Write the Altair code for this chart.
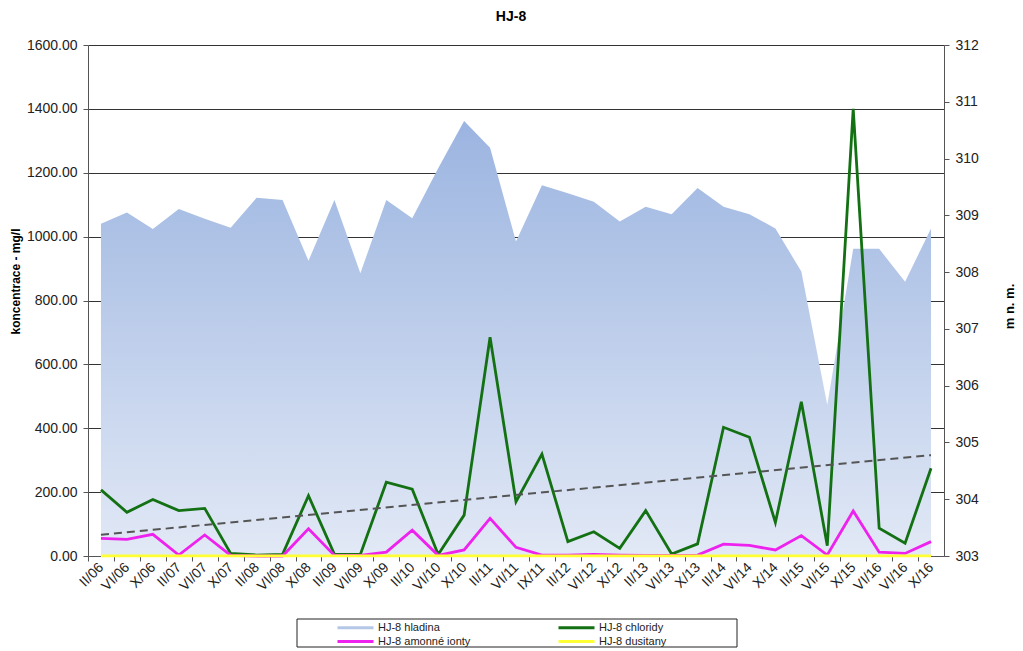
import altair as alt
import pandas as pd

labels = ["II/06", "VI/06", "X/06", "II/07", "VI/07", "X/07", "II/08", "VI/08", "X/08",
          "II/09", "VI/09", "X/09", "II/10", "VI/10", "X/10", "II/11", "VI/11", "IX/11",
          "II/12", "VI/12", "X/12", "II/13", "VI/13", "X/13", "II/14", "VI/14", "X/14",
          "II/15", "VI/15", "X/15", "VI/16", "VI/16", "X/16"]

hladina = [308.85, 309.05, 308.76, 309.11, 308.94, 308.78, 309.31, 309.27, 308.20,
           309.27, 307.98, 309.27, 308.95, 309.83, 310.66, 310.19, 308.54, 309.53,
           309.39, 309.24, 308.89, 309.15, 309.02, 309.48, 309.15, 309.02, 308.77,
           308.01, 305.66, 308.41, 308.41, 307.83, 308.77]

chloridy = [207, 137, 177, 142, 149, 8, 3, 5, 189,
            5, 5, 231, 209, 5, 128, 685, 170, 319,
            45, 76, 24, 142, 6, 38, 403, 372, 105,
            483, 32, 1400, 87, 40, 275]

amonne = [55, 52, 68, 3, 66, 2, 0, 0, 85,
          2, 2, 12, 81, 2, 19, 118, 27, 3,
          3, 5, 3, 2, 2, 3, 37, 33, 19,
          64, 3, 141, 12, 8, 45]

dusitany = [0.5, 0.4, 0.5, 0.3, 0.4, 0.2, 0.2, 0.2, 0.3,
            0.2, 0.2, 0.3, 0.3, 0.2, 0.3, 0.4, 0.3, 0.2,
            0.2, 0.3, 0.2, 0.2, 0.2, 0.2, 0.3, 0.3, 0.2,
            0.3, 0.2, 0.4, 0.3, 0.2, 0.3]

# legend order (column-major fill): column 1 = hladina, amonné; column 2 = chloridy, dusitany
series_names = ["HJ-8 hladina", "HJ-8 amonné ionty", "HJ-8 chloridy", "HJ-8 dusitany"]
series_colors = ["#b4c7e7", "#ee22ee", "#137113", "#ffff33"]

W, H = 856, 511
n = len(labels)
idx = list(range(n))
half = W / n / 2

df_h = pd.DataFrame({"i": idx, "v": hladina})
rows = []
for name, vals in [("HJ-8 chloridy", chloridy), ("HJ-8 amonné ionty", amonne), ("HJ-8 dusitany", dusitany)]:
    for i, v in zip(idx, vals):
        rows.append({"i": i, "v": v, "s": name})
df_l = pd.DataFrame(rows)
df_cl = pd.DataFrame({"i": idx, "v": chloridy})

label_arr = "[" + ",".join("'" + s + "'" for s in labels) + "]"

xscale = alt.Scale(domain=[-0.5, n - 0.5], nice=False, zero=False)
xaxis = alt.Axis(values=idx, labelExpr=label_arr + "[datum.value]", labelAngle=315,
                 labelAlign="right", labelBaseline="middle", tickOffset=-half, labelOffset=half,
                 labelOverlap=False, tickSize=5, grid=False, domainColor="#555555",
                 tickColor="#555555", labelFontSize=14, labelColor="#222222", labelPadding=4,
                 title=None)

area = alt.Chart(df_h).mark_area(
    color=alt.Gradient(gradient="linear",
                       stops=[alt.GradientStop(color="#9bb4e0", offset=0),
                              alt.GradientStop(color="#e2e9f6", offset=1)],
                       x1=0, x2=0, y1=0, y2=1),
    opacity=1,
).encode(
    x=alt.X("i:Q", scale=xscale, axis=xaxis),
    y=alt.Y("v:Q", scale=alt.Scale(domain=[303, 312], nice=False, zero=False),
            axis=alt.Axis(orient="right", values=list(range(303, 313)), format="d",
                          title="m n. m.", titleAngle=270, titleFontSize=13, titleFontWeight="bold",
                          titleX=65, titleY=261, titleBaseline="middle", titleAlign="center",
                          grid=False, tickSize=5, domainColor="#555555", tickColor="#555555",
                          labelFontSize=14, labelColor="#222222", labelPadding=6)),
    y2=alt.datum(303),
)

lines = alt.Chart(df_l).mark_line(strokeWidth=2.8).encode(
    x=alt.X("i:Q", scale=xscale, axis=xaxis),
    y=alt.Y("v:Q", scale=alt.Scale(domain=[0, 1600], nice=False),
            axis=alt.Axis(values=list(range(0, 1601, 200)), format=".2f",
                          title="koncentrace - mg/l", titleFontSize=12, titleFontWeight="bold",
                          titleX=-73, titleY=236, titleBaseline="middle", titleAlign="center",
                          grid=True, gridColor="#333333", gridWidth=1,
                          tickSize=5, domainColor="#555555", tickColor="#555555",
                          labelFontSize=14, labelColor="#222222", labelPadding=6)),
    color=alt.Color("s:N", sort=series_names,
                    scale=alt.Scale(domain=series_names, range=series_colors),
                    legend=alt.Legend(orient="none", legendX=209, legendY=573, columns=2,
                                      title=None, symbolType="M-3,0H3", symbolSize=144,
                                      symbolStrokeWidth=3, symbolOffset=49, labelFontSize=11,
                                      labelColor="#222222", columnPadding=49, rowPadding=0,
                                      padding=2, labelOffset=15)),
    order="i:Q",
)

trend = alt.Chart(df_cl).transform_regression("i", "v", extent=[0, n - 1]).mark_line(
    color="#555555", strokeWidth=2, strokeDash=[8, 5]
).encode(
    x=alt.X("i:Q", scale=xscale, axis=xaxis),
    y=alt.Y("v:Q", scale=alt.Scale(domain=[0, 1600], nice=False)),
)

# legend frame
frame = alt.Chart(pd.DataFrame({"f": [0]})).mark_rect(
    fill="white", fillOpacity=0, stroke="#222222", strokeWidth=1
).encode(x=alt.value(209), x2=alt.value(649), y=alt.value(574), y2=alt.value(602))

left = alt.layer(lines, trend)

chart = alt.layer(area, left, frame).resolve_scale(y="independent").properties(
    width=W, height=H,
    title=alt.TitleParams("HJ-8", fontSize=14, fontWeight="bold", anchor="middle", offset=14, dx=-5),
    autosize=alt.AutoSizeParams(type="none"),
    padding={"left": 80, "top": 37, "right": 71, "bottom": 100},
).configure(font="Liberation Sans").configure_view(stroke=None)

chart.save("out.html", embed_options={"renderer": "svg", "actions": False})
